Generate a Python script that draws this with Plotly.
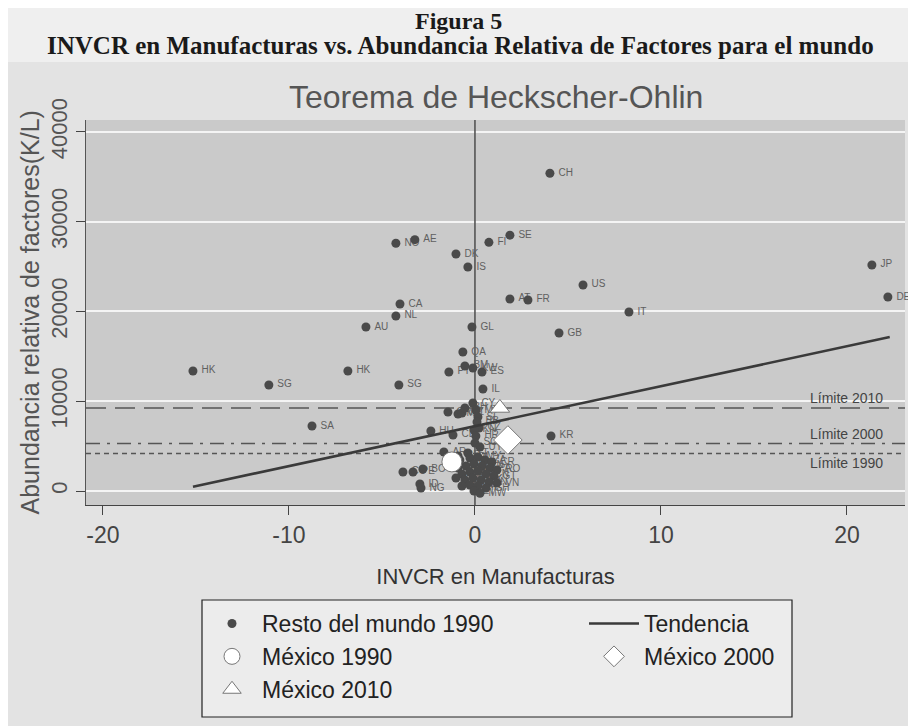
import plotly.graph_objects as go

# ---------------- data ----------------
# Resto del mundo 1990: country code, INVCR en manufacturas, K/L
paises = ["CH", "SE", "FI", "NO", "AE", "DK", "IS", "JP", "DE", "US",
          "AT", "FR", "IT", "CA", "NL", "AU", "GL", "GB", "QA", "HK",
          "HK", "SG", "SG", "PT", "BM", "KW", "ES", "IL", "SA", "CY",
          "GR", "MO", "NZ", "BH", "MT", "SI", "BB", "CZ", "KN", "HR",
          "SC", "HU", "CL", "KR", "AR", "TT", "UY", "BO", "PE", "CO",
          "ID", "NG",
          "BR", "TR", "PL", "MY", "ZA", "CR", "EC", "TH", "JM", "TN",
          "PA", "RO", "MA", "EG", "PH", "CN", "GT", "LK", "SV", "HN",
          "PK", "IN", "VN", "KE", "BD", "NI", "GH", "ET", "MW"]
invcr = [4.03, 1.88, 0.75, -4.25, -3.23, -1.02, -0.38, 21.34, 22.2, 5.81,
         1.88, 2.85, 8.28, -4.03, -4.25, -5.86, -0.16, 4.52, -0.65, -15.16,
         -6.83, -11.08, -4.09, -1.4, -0.54, -0.11, 0.38, 0.43, -8.76, -0.11,
         -1.45, -0.91, -0.7, -0.54, 0.05, 0.16, 0.11, 0.22, -0.05, 0.05,
         0.0, -2.37, -1.18, 4.09, -1.67, -0.38, 0.27, -2.8, -3.33, -3.87,
         -2.96, -2.9,
         -0.91, -0.81, -0.27, 0.16, 0.54, 0.91, -0.91, -0.48, -0.05, 0.38,
         0.81, 1.18, -0.7, -0.27, 0.16, 0.59, 1.02, -1.02, -0.54, -0.11,
         0.32, 0.75, 1.18, -0.7, -0.27, 0.16, 0.59, -0.05, 0.27]
kl = [35400, 28500, 27700, 27600, 28000, 26400, 24950, 25180, 21610, 22950,
      21390, 21280, 19940, 20830, 19500, 18270, 18270, 17600, 15480, 13370,
      13370, 11810, 11810, 13260, 13930, 13700, 13260, 11360, 7240, 9800,
      8800, 8580, 8690, 9250, 9020, 8240, 7690, 7020, 6800, 6130,
      5350, 6680, 6240, 6130, 4340, 4230, 4900, 2450, 2120, 2120,
      780, 330,
      3900, 3450, 3680, 3790, 3450, 3230, 2560, 2790, 3010, 2790,
      2560, 2340, 1890, 2120, 2230, 1890, 1670, 1450, 1230, 1450,
      1230, 1000, 890, 560, 670, 560, 330, 0, -250]

# México
mex_1990 = (-1.24, 3240)
mex_2000 = (1.77, 5680)
mex_2010 = (1.34, 9250)

# Tendencia (fitted line endpoints)
tend_x = [-15.16, 22.3]
tend_y = [480, 17150]

# Límites
lim_2010 = 9250
lim_2000 = 5290
lim_1990 = 4180

x_ticks = [-20, -10, 0, 10, 20]
y_ticks = [0, 10000, 20000, 30000, 40000]
x_range = [-20.91, 23.12]
y_range = [-1560, 41330]

# ---------------- figure ----------------
DOT = "#4a4a4a"
SANS = "Liberation Sans, Arial, sans-serif"
SERIF = "Liberation Serif, Times New Roman, serif"

# plot area in screenshot pixels: left 86, right 905, top 120, bottom 505
PL, PT, PW, PH = 86, 120, 819, 385
OFF = 8  # page body margin of the html document


def px(xp):
    return (xp - PL) / PW


def py(yp):
    return (PT + PH - yp) / PH


fig = go.Figure()

# limit lines (full width)
for val, dash in [(lim_2010, "20px,9px"), (lim_2000, "14px,7px,3px,7px"), (lim_1990, "5px,4px")]:
    fig.add_trace(go.Scatter(x=x_range, y=[val, val], mode="lines",
                             line=dict(color="#555555", width=1.6, dash=dash),
                             showlegend=False, hoverinfo="skip"))

# vertical zero line
fig.add_trace(go.Scatter(x=[0, 0], y=y_range, mode="lines",
                         line=dict(color="#555555", width=1.6),
                         showlegend=False, hoverinfo="skip"))

# country labels (invisible markers give the text a gap from the dots)
fig.add_trace(go.Scatter(x=invcr, y=kl, mode="markers+text", text=paises, textposition="middle right",
                         marker=dict(size=12, opacity=0), cliponaxis=False,
                         textfont=dict(family=SANS, size=10, color="#606060"),
                         showlegend=False, hoverinfo="skip"))

fig.add_trace(go.Scatter(x=invcr, y=kl, mode="markers", name="Resto del mundo 1990",
                         marker=dict(color=DOT, size=9, line=dict(width=0))))
fig.add_trace(go.Scatter(x=tend_x, y=tend_y, mode="lines", name="Tendencia",
                         line=dict(color="#3a3a3a", width=2.6)))
fig.add_trace(go.Scatter(x=[mex_1990[0]], y=[mex_1990[1]], mode="markers", name="México 1990",
                         marker=dict(symbol="circle", color="white", size=20,
                                     line=dict(color="#777777", width=1))))
fig.add_trace(go.Scatter(x=[mex_2000[0]], y=[mex_2000[1]], mode="markers", name="México 2000",
                         marker=dict(symbol="diamond", color="white", size=22,
                                     line=dict(color="#777777", width=1))))
fig.add_trace(go.Scatter(x=[mex_2010[0]], y=[mex_2010[1]], mode="markers", name="México 2010",
                         marker=dict(symbol="triangle-up", color="white", size=17,
                                     line=dict(color="#777777", width=1))))

annotations = [
    dict(text="<b>Figura 5</b>", xref="paper", yref="paper", x=px(458), y=py(21), borderpad=0,
         showarrow=False, font=dict(family=SERIF, size=24, color="#1a1a1a"), xanchor="center", yanchor="middle"),
    dict(text="<b>INVCR en Manufacturas vs. Abundancia Relativa de Factores para el mundo</b>",
         xref="paper", yref="paper", x=px(460), y=py(46), borderpad=0,
         showarrow=False, font=dict(family=SERIF, size=25, color="#1a1a1a"), xanchor="center", yanchor="middle"),
    dict(text="Teorema de Heckscher-Ohlin", xref="paper", yref="paper", x=0.5, y=py(97),
         showarrow=False, font=dict(family=SANS, size=32, color="#555555"), xanchor="center", yanchor="middle"),
    dict(text="Abundancia relativa de factores(K/L)", xref="paper", yref="paper",
         x=px(29), y=0.5, textangle=-90, showarrow=False,
         font=dict(family=SANS, size=25, color="#555555"), xanchor="center", yanchor="middle"),
    dict(text="Límite 2010", xref="paper", yref="y", x=px(885), y=lim_2010,
         xanchor="right", yanchor="bottom", showarrow=False,
         font=dict(family=SANS, size=14, color="#444444")),
    dict(text="Límite 2000", xref="paper", yref="y", x=px(885), y=lim_2000,
         xanchor="right", yanchor="bottom", showarrow=False,
         font=dict(family=SANS, size=14, color="#444444")),
    dict(text="Límite 1990", xref="paper", yref="y", x=px(885), y=lim_1990,
         xanchor="right", yanchor="top", showarrow=False,
         font=dict(family=SANS, size=14, color="#444444")),
]

shapes = [
    # lighter page strip above the graph region
    dict(type="rect", xref="paper", yref="paper", x0=-0.2, x1=1.2, y0=py(62), y1=1.6,
         fillcolor="#efefef", line=dict(width=0), layer="below"),
    # legend frame
    dict(type="rect", xref="paper", yref="paper", x0=px(202), x1=px(792), y0=py(600), y1=py(717),
         fillcolor="#ececec", line=dict(color="#222222", width=1.2), layer="below"),
]

fig.update_layout(
    width=916, height=726,
    margin=dict(l=PL - OFF, r=916 - (PL - OFF) - PW, t=PT - OFF, b=726 - (PT - OFF) - PH, autoexpand=False),
    paper_bgcolor="#e3e3e3",
    plot_bgcolor="#cacaca",
    font=dict(family=SANS, color="#555555"),
    showlegend=True,
    legend=dict(orientation="h", x=px(202), y=py(602), xanchor="left", yanchor="top",
                entrywidth=317, entrywidthmode="pixels", itemwidth=50,
                bgcolor="rgba(0,0,0,0)", borderwidth=0,
                font=dict(family=SANS, size=23, color="#222222"), traceorder="normal"),
    annotations=annotations,
    shapes=shapes,
    xaxis=dict(range=x_range, tickvals=x_ticks, ticktext=[str(v) for v in x_ticks],
               showgrid=False, zeroline=False, showline=True, linecolor="#444444", linewidth=1,
               ticks="outside", ticklen=9, tickcolor="#444444",
               tickfont=dict(family=SANS, size=23, color="#444444"),
               title=dict(text="INVCR en Manufacturas", font=dict(family=SANS, size=22, color="#333333"),
                          standoff=22)),
    yaxis=dict(range=y_range, tickvals=y_ticks, ticktext=[str(v) for v in y_ticks],
               showgrid=True, gridcolor="#f4f4f4", gridwidth=1.5, zeroline=False,
               showline=True, linecolor="#555555", linewidth=1,
               ticks="outside", ticklen=9, tickcolor="#444444", tickangle=-90,
               tickfont=dict(family=SANS, size=22, color="#555555")),
)

fig.write_html("out.html")
